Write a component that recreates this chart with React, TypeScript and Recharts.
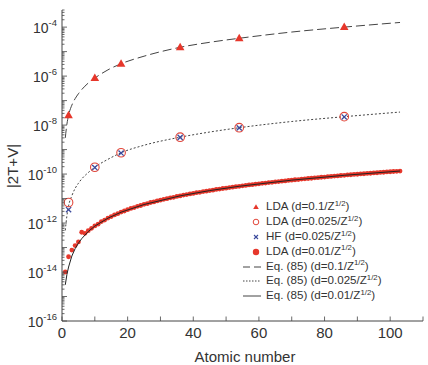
import { ComposedChart, Line, Scatter, XAxis, YAxis, Legend, Label } from "recharts";

const FONT = "'Liberation Sans', Arial, Helvetica, sans-serif";
const RED = "#e6372b";
const RED_OPEN = "#e2463a";
const BLUE = "#3b4a9c";
const LINE = "#222";
const AXIS = "#444";
const TEXT = "#333";

// noble-gas atoms (Z) with the three marker series
const zNoble = [2, 10, 18, 36, 54, 86];
const ldaD01 = [2.5e-8, 8.3e-7, 3.2e-6, 1.5e-5, 3.5e-5, 1.0e-4];
const ldaD025 = [6.9e-12, 1.9e-10, 7.4e-10, 3.2e-9, 7.8e-9, 2.2e-8];
const hfD025 = [3.5e-12, 1.85e-10, 7.2e-10, 3.15e-9, 7.7e-9, 2.15e-8];

// LDA d=0.01/Z^1/2, Z = 1..103
const ldaD001 = [
  1.0e-14, 4.2e-14, 7.9e-14, 1.2e-13, 1.7e-13, 4.2e-13, 3.8e-13, 4.9e-13, 6.1e-13, 7.6e-13,
  9.0e-13, 1.15e-12, 1.32e-12, 1.6e-12, 1.83e-12, 2.15e-12, 2.42e-12, 2.8e-12, 3.1e-12, 3.5e-12,
  3.95e-12, 4.3e-12, 4.8e-12, 5.2e-12, 5.8e-12, 6.2e-12, 6.9e-12, 7.3e-12, 8.0e-12, 8.6e-12,
  9.3e-12, 9.9e-12, 1.07e-11, 1.12e-11, 1.22e-11, 1.28e-11, 1.38e-11, 1.45e-11, 1.55e-11, 1.62e-11,
  1.73e-11, 1.8e-11, 1.92e-11, 2.0e-11, 2.12e-11, 2.2e-11, 2.35e-11, 2.43e-11, 2.57e-11, 2.66e-11,
  2.8e-11, 2.9e-11, 3.05e-11, 3.15e-11, 3.32e-11, 3.42e-11, 3.6e-11, 3.7e-11, 3.88e-11, 3.98e-11,
  4.17e-11, 4.28e-11, 4.48e-11, 4.6e-11, 4.8e-11, 4.92e-11, 5.13e-11, 5.26e-11, 5.48e-11, 5.62e-11,
  5.85e-11, 5.98e-11, 6.22e-11, 6.36e-11, 6.6e-11, 6.74e-11, 7.0e-11, 7.15e-11, 7.4e-11, 7.55e-11,
  7.83e-11, 7.98e-11, 8.27e-11, 8.42e-11, 8.72e-11, 8.88e-11, 9.18e-11, 9.35e-11, 9.66e-11, 9.82e-11,
  1.015e-10, 1.03e-10, 1.065e-10, 1.08e-10, 1.115e-10, 1.13e-10, 1.165e-10, 1.185e-10, 1.22e-10, 1.24e-10,
  1.275e-10, 1.295e-10, 1.33e-10,
];

const eqZ = [1, 1.5, 2, 3, 4, 5, 6, 8, 10, 14, 18, 25, 36, 45, 54, 70, 86, 103];
const eqD01 = [3e-9, 1.1e-8, 2.5e-8, 6.5e-8, 1.2e-7, 1.9e-7, 2.8e-7, 5.2e-7, 8.3e-7, 1.8e-6, 3.2e-6, 6.5e-6, 1.5e-5, 2.4e-5, 3.5e-5, 6.3e-5, 1.0e-4, 1.55e-4];
const eqD025 = [5e-13, 2e-12, 5e-12, 1.3e-11, 2.6e-11, 4.2e-11, 6.3e-11, 1.15e-10, 1.9e-10, 4e-10, 7.4e-10, 1.5e-9, 3.2e-9, 5.2e-9, 7.8e-9, 1.4e-8, 2.2e-8, 3.4e-8];
const eqD001 = [3e-15, 8e-15, 1.6e-14, 4.5e-14, 9e-14, 1.5e-13, 2.3e-13, 4.5e-13, 7.5e-13, 1.58e-12, 2.77e-12, 5.7e-12, 1.29e-11, 2.11e-11, 3.17e-11, 5.64e-11, 8.9e-11, 1.33e-10];

const xTicks = [0, 10, 20, 30, 40, 50, 60, 70, 80, 90, 100, 110];
const xLabels = [0, 20, 40, 60, 80, 100];
const yLabelExps = [-16, -14, -12, -10, -8, -6, -4];
const yTicks: number[] = [];
for (let k = -16; k <= -4; k++) {
  for (let m = 1; m <= 9; m++) {
    if (k === -4 && m > 5) break;
    yTicks.push(m * Math.pow(10, k));
  }
}

const pts = (zs: number[], vs: number[]) => zs.map((z, i) => ({ z, v: vs[i] }));
const triData = pts(zNoble, ldaD01);
const openData = pts(zNoble, ldaD025);
const hfData = pts(zNoble, hfD025);
const dotData = ldaD001.map((v, i) => ({ z: i + 1, v }));
const line01 = pts(eqZ, eqD01);
const line025 = pts(eqZ, eqD025);
const line001 = pts(eqZ, eqD001);

const tickInfo = (v: number) => {
  const e = Math.log10(v);
  const exp = Math.round(e);
  return { major: Math.abs(e - exp) < 1e-6, exp };
};

const LeftTick = (props: any) => {
  const { x, y, payload } = props;
  const { major, exp } = tickInfo(payload.value);
  return (
    <g>
      <line x1={x} x2={x + (major ? 5 : 2.5)} y1={y} y2={y} stroke={AXIS} strokeWidth={0.8} />
      {major && yLabelExps.includes(exp) && (
        <text x={x - 5} y={y + 6} textAnchor="end" fontSize={14} fill={TEXT} fontFamily={FONT}>
          10<tspan dy={-7} fontSize={9.5}>{exp}</tspan>
        </text>
      )}
    </g>
  );
};

const RightTick = (props: any) => {
  const { x, y, payload } = props;
  const { major } = tickInfo(payload.value);
  return <line x1={x} x2={x - (major ? 5 : 2.5)} y1={y} y2={y} stroke={AXIS} strokeWidth={0.8} />;
};

const BottomTick = (props: any) => {
  const { x, y, payload } = props;
  return (
    <g>
      <line x1={x} x2={x} y1={y} y2={y - 4.5} stroke={AXIS} strokeWidth={0.8} />
      {xLabels.includes(payload.value) && (
        <text x={x} y={y + 17} textAnchor="middle" fontSize={15} fill={TEXT} fontFamily={FONT}>
          {payload.value}
        </text>
      )}
    </g>
  );
};

const TopTick = (props: any) => {
  const { x, y } = props;
  return <line x1={x} x2={x} y1={y} y2={y + 4.5} stroke={AXIS} strokeWidth={0.8} />;
};

const Triangle = (props: any) => {
  const { cx, cy } = props;
  return <polygon points={`${cx},${cy - 4.5} ${cx - 4.3},${cy + 3} ${cx + 4.3},${cy + 3}`} fill={RED} />;
};
const OpenCircle = (props: any) => <circle cx={props.cx} cy={props.cy} r={4.3} fill="none" stroke={RED_OPEN} strokeWidth={1.1} />;
const Cross = (props: any) => {
  const { cx, cy } = props;
  const s = 2.6;
  return (
    <g stroke={BLUE} strokeWidth={1.3}>
      <line x1={cx - s} y1={cy - s} x2={cx + s} y2={cy + s} />
      <line x1={cx - s} y1={cy + s} x2={cx + s} y2={cy - s} />
    </g>
  );
};
const Dot = (props: any) => <circle cx={props.cx} cy={props.cy} r={2.4} fill={RED} />;

const legendItems = [
  { kind: "tri", text: "LDA (d=0.1/Z" },
  { kind: "open", text: "LDA (d=0.025/Z" },
  { kind: "cross", text: "HF (d=0.025/Z" },
  { kind: "dot", text: "LDA (d=0.01/Z" },
  { kind: "dash", text: "Eq. (85) (d=0.1/Z" },
  { kind: "dotted", text: "Eq. (85) (d=0.025/Z" },
  { kind: "solid", text: "Eq. (85) (d=0.01/Z" },
];

const legendSymbol = (kind: string) => {
  switch (kind) {
    case "tri":
      return <polygon points="14,4.2 11.2,9 16.8,9" fill={RED} />;
    case "open":
      return <circle cx={14} cy={7} r={2.8} fill="none" stroke={RED_OPEN} strokeWidth={1} />;
    case "cross":
      return (
        <g stroke={BLUE} strokeWidth={1.1}>
          <line x1={12} y1={5} x2={16} y2={9} />
          <line x1={12} y1={9} x2={16} y2={5} />
        </g>
      );
    case "dot":
      return <circle cx={14} cy={7} r={3.2} fill={RED} />;
    case "dash":
      return <line x1={1} x2={19} y1={7} y2={7} stroke="#444" strokeDasharray="7 4" />;
    case "dotted":
      return <line x1={1} x2={19} y1={7} y2={7} stroke="#444" strokeDasharray="1.5 1.5" />;
    default:
      return <line x1={1} x2={19} y1={7} y2={7} stroke="#444" />;
  }
};

const LegendBox = () => (
  <div style={{ fontFamily: FONT, fontSize: 11.6, color: TEXT }}>
    {legendItems.map((it) => (
      <div key={it.kind} style={{ display: "flex", alignItems: "center", height: 14.8 }}>
        <svg width={24} height={14} style={{ flex: "none" }}>
          {legendSymbol(it.kind)}
        </svg>
        <span style={{ whiteSpace: "nowrap", lineHeight: "14px" }}>
          {it.text}
          <span style={{ fontSize: 7.8, position: "relative", top: -4.5 }}>1/2</span>)
        </span>
      </div>
    ))}
  </div>
);

const App = () => (
  <div style={{ position: "fixed", left: 0, top: 0, width: 428, height: 365, background: "#fff" }}>
    <ComposedChart width={428} height={365} margin={{ top: 10, right: 5, bottom: 0, left: 0 }}>
      <XAxis
        dataKey="z"
        type="number"
        domain={[0, 110]}
        ticks={xTicks}
        interval={0}
        allowDataOverflow
        height={44}
        tickSize={0}
        tickMargin={0}
        tickLine={false}
        tick={BottomTick}
        axisLine={{ stroke: AXIS }}
      >
        <Label
          content={() => (
            <text x={245} y={362} textAnchor="middle" fontSize={15} fill={TEXT} fontFamily={FONT}>
              Atomic number
            </text>
          )}
        />
      </XAxis>
      <XAxis
        xAxisId="top"
        orientation="top"
        dataKey="z"
        type="number"
        domain={[0, 110]}
        ticks={xTicks}
        interval={0}
        allowDataOverflow
        height={0}
        tickSize={0}
        tickMargin={0}
        tickLine={false}
        tick={TopTick}
        axisLine={{ stroke: AXIS }}
      />
      <YAxis
        dataKey="v"
        scale="log"
        domain={[1e-16, 5e-4]}
        ticks={yTicks}
        interval={0}
        allowDataOverflow
        width={62}
        tickSize={0}
        tickMargin={0}
        tickLine={false}
        tick={LeftTick}
        axisLine={{ stroke: AXIS }}
      >
        <Label
          content={() => (
            <text x={18} y={166} transform="rotate(-90 18 166)" textAnchor="middle" fontSize={15} fill={TEXT} fontFamily={FONT}>
              |2T+V|
            </text>
          )}
        />
      </YAxis>
      <YAxis
        yAxisId="right"
        orientation="right"
        dataKey="v"
        scale="log"
        domain={[1e-16, 5e-4]}
        ticks={yTicks}
        interval={0}
        allowDataOverflow
        width={0}
        tickSize={0}
        tickMargin={0}
        tickLine={false}
        tick={RightTick}
        axisLine={{ stroke: AXIS }}
      />
      <Scatter data={dotData} shape={Dot} isAnimationActive={false} />
      <Line data={line01} dataKey="v" type="monotone" stroke="#444" strokeWidth={1} strokeDasharray="9 4" dot={false} activeDot={false} isAnimationActive={false} />
      <Line data={line025} dataKey="v" type="monotone" stroke="#444" strokeWidth={1} strokeDasharray="2 2" dot={false} activeDot={false} isAnimationActive={false} />
      <Scatter data={triData} shape={Triangle} isAnimationActive={false} />
      <Scatter data={openData} shape={OpenCircle} isAnimationActive={false} />
      <Scatter data={hfData} shape={Cross} isAnimationActive={false} />
      {/* solid Eq. (85) curve sits on top of the dense LDA dots */}
      <Scatter
        data={line001}
        line={{ stroke: LINE, strokeWidth: 1 }}
        lineType="joint"
        shape={() => <g />}
        isAnimationActive={false}
      />
      <Legend
        layout="vertical"
        align="center"
        verticalAlign="middle"
        content={LegendBox}
        wrapperStyle={{ left: 242, top: 200, width: 186 }}
      />
    </ComposedChart>
  </div>
);

export default App;
